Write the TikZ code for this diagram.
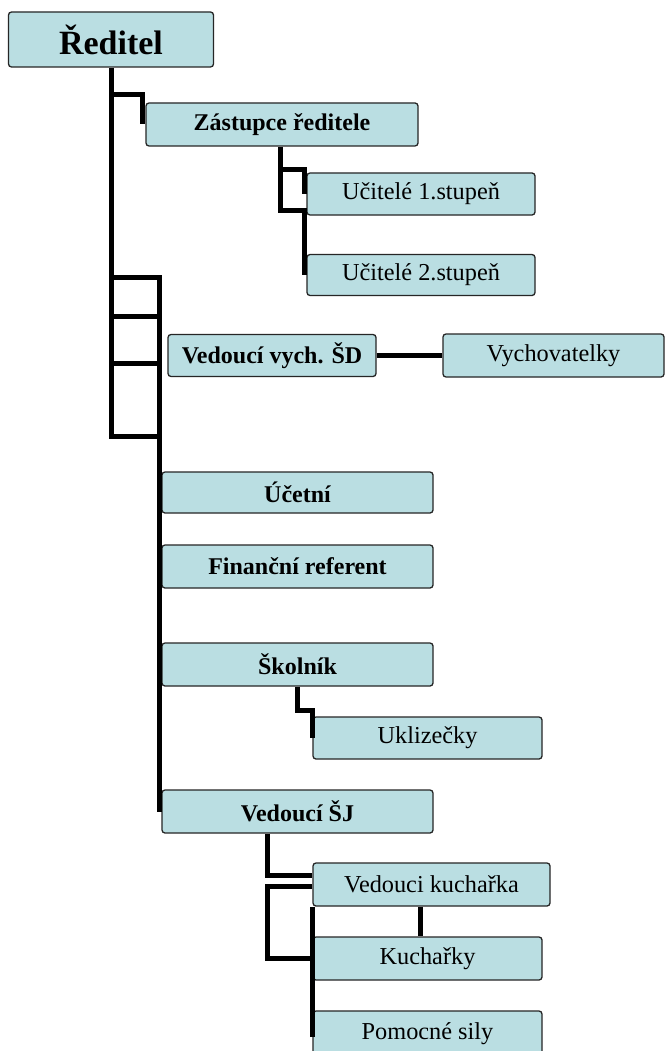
\documentclass[tikz,border=0pt]{standalone}
\usepackage{fontspec}
\setmainfont{Liberation Serif}
\definecolor{boxfill}{RGB}{186,222,226}

\begin{document}
\begin{tikzpicture}[x=1pt,y=-1pt,
    box/.style={draw=black!85,line width=1.3pt,fill=boxfill,rounded corners=3pt,inner sep=0pt,minimum height=43pt,font=\fontsize{24.3}{26}\selectfont},
    head/.style={box,font=\bfseries\fontsize{24}{26}\selectfont},
    link/.style={line width=5pt}]
    \useasboundingbox[fill=white] (0,0) rectangle (666,1051);
    % boxes
    \node[head,minimum width=205pt,minimum height=55pt,font=\bfseries\fontsize{34}{36}\selectfont] (red) at (111,39.5) {Ředitel};
    \node[head,minimum width=272pt] (zast) at (282,124.5) {Zástupce ředitele};
    \node[box,minimum width=228pt,minimum height=42pt] (uc1) at (421,194) {Učitelé 1.stupeň};
    \node[box,minimum width=228pt,minimum height=41pt] (uc2) at (421,275) {Učitelé 2.stupeň};
    \node[head,minimum width=208pt,minimum height=42pt] (vsd) at (272,355.5) {Vedoucí vych. ŠD};
    \node[box,minimum width=221pt] (vych) at (553.5,355.5) {Vychovatelky};
    \node[head,minimum width=271pt,minimum height=41pt] (uce) at (297.5,492.5) {Účetní};
    \node[head,minimum width=271pt] (fin) at (297.5,566.5) {Finanční referent};
    \node[head,minimum width=271pt] (skol) at (297.5,664.5) {Školník};
    \node[box,minimum width=229pt,minimum height=42pt] (ukl) at (427.5,738) {Uklizečky};
    \node[head,minimum width=271pt] (vsj) at (297.5,811.5) {Vedoucí ŠJ};
    \node[box,minimum width=237pt] (vkuch) at (431.5,884.5) {Vedouci kuchařka};
    \node[box,minimum width=229pt] (kuch) at (427.5,958.5) {Kuchařky};
    \node[box,minimum width=229pt,minimum height=46pt] (pom) at (427.5,1034) {Pomocné sily};
    % joints
    \coordinate (r1) at (159,277);
    \coordinate (r2) at (159,316);
    \coordinate (r3) at (159,363);
    \coordinate (r4) at (159,436);
    \coordinate (zj) at (143,95);
    \coordinate (zk1) at (280,170);
    \coordinate (zk2) at (280,210);
    \coordinate (sk) at (297,710);
    \coordinate (sj) at (267,875);
    \coordinate (lp) at (267,886);
    \coordinate (vk) at (420,920);
    % connectors
    \draw[link] (red.south) |- (r4);
    \draw[link] (red.south |- r1) -- (r1) -- (r1 |- vsj.west);
    \draw[link] (red.south |- r2) -- (r2);
    \draw[link] (red.south |- r3) -- (r3);
    \draw[link] (red.south |- zj) -| ([xshift=-3pt]zast.west);
    \draw[link] (zast.south -| zk1) |- (zk2) -| ([xshift=-2pt]uc2.west);
    \draw[link] (zk1) -| ([xshift=-2pt]uc1.west);
    \draw[link] (vsd) -- (vych);
    \draw[link] (skol.south -| sk) -- (sk) -| (ukl.west);
    \draw[link] (vsj.south -| sj) |- (sj -| vkuch.west);
    \draw[link] (lp -| vkuch.west) -- (lp) |- (kuch.west);
    \draw[link] (vkuch.south west) -- ([yshift=-3pt]vkuch.south west |- pom.west);
    \draw[link] (vk |- vkuch.south) -- (vk |- kuch.north);
\end{tikzpicture}
\end{document}
